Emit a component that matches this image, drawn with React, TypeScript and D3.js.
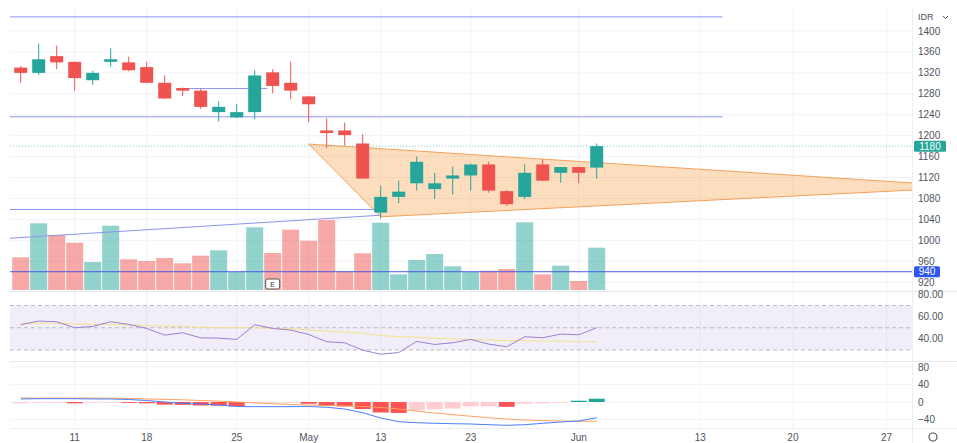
import React from "react";
import * as d3 from "d3";

// ---- data ----
const opens = [1330,1320,1352,1341,1306,1341,1340,1331,1301,1291,1286,1245,1235,1245,1321,1301,1275,1210,1210,1185,1053,1083,1109,1098,1118,1124,1145,1094,1083,1145,1129,1140,1139];
const highs = [1333,1376,1372,1342,1324,1367,1351,1341,1315,1292,1290,1266,1260,1325,1327,1341,1276,1233,1225,1203,1104,1114,1160,1129,1141,1146,1150,1096,1145,1155,1140,1141,1185];
const lows = [1301,1316,1327,1286,1297,1332,1323,1300,1270,1276,1251,1227,1233,1232,1281,1270,1226,1176,1181,1118,1042,1071,1095,1079,1088,1095,1091,1066,1079,1114,1110,1109,1118];
const closes = [1320,1346,1340,1310,1320,1346,1325,1301,1271,1286,1255,1255,1245,1315,1295,1286,1260,1205,1201,1118,1083,1093,1150,1109,1124,1145,1095,1069,1129,1114,1140,1129,1180];
const volumes = [32.7,66.7,55,47.3,28,64.3,30.7,29,32,26.7,34.3,39.7,18,62.7,37,60.3,49.3,70,18.7,36.7,67.3,15.7,30,36,23.7,18,19.3,21,67.7,15.7,24.3,9,42.3];
const rsi = [52.7,56,55.4,50,51.2,55.4,53,49.4,43.4,45.5,40.9,40.7,39.5,52.7,49.4,47.9,44,37.4,36.5,29.9,26.2,27.7,37.7,35,36.5,39.5,35.3,32.9,41.9,41,44.3,43.7,50];
const rsiMa = [54,54,54,53.5,53,53,52.5,52,51.5,51,50.5,50,50,50,49.5,49,48,47,46,45,43,42,41.5,40.5,40,39.5,39,38.5,38.5,38,38,37.5,37.5];
const macd = [7,7.5,7.5,7.5,7,7,5.7,3.4,0,-3,-4.6,-6.9,-10.3,-10.7,-10.7,-10.7,-10.3,-12,-16,-24.5,-36.6,-45,-47.3,-48.7,-49.6,-50.3,-51.9,-53.3,-51.9,-48.7,-45.7,-43.4,-35.9];
const signal = [9,9,9,9,8.8,8.6,8,7,6,5,3.5,2,0,-2,-4,-5.5,-7,-8,-9,-10,-12.5,-16,-21,-25,-29,-32.5,-36,-39,-41,-42.5,-43.5,-44,-44];
const hist = [-3,-1,-1,-3,-2,-1,-2,-3,-6,-6.5,-8,-8.5,-10,-2,-1,-1,-4,-8,-10,-16,-24,-25,-19,-17,-15,-10,-10,-11,-4,-3,-1,3,7.5];

const priceTicks = [1400,1360,1320,1280,1240,1200,1160,1120,1080,1040,1000,960,920];
const rsiTicks = [80,60,40];
const macdTicks = [80,40,0,-40];
const dateLabels = ["11","18","25","May","13","23","Jun","13","20","27"];
const dateIdx = [3,7,12,16,20,25,31,37.75,42.9,48.1];

// user drawings (price levels, index spans)
const hLinePrices = [1427,1236,1290,1059];
const hLineFrom = [-0.6,-0.6,9,-0.6];
const hLineTo = [39,39,13.7,19.7];
const trendIdx = [-0.6,20];
const trendPrice = [1004,1048];
const triIdx = [16,20,53];
const triPrice = [1184,1045,1102];
const supportPrice = 940;
const lastPrice = 1180;

const UP = "#26a69a";
const DOWN = "#ef5350";
const FONT = "'Liberation Sans', Arial, sans-serif";

export default function App() {
  const L = 10, R = 912;
  const x = d3.scaleLinear().domain([0, 49.5]).range([20.7, 911.7]);
  const y = d3.scaleLinear().domain([920, 1400]).range([282.2, 31]);
  const yv = d3.scaleLinear().domain([0, 70]).range([290, 220]);
  const yr = d3.scaleLinear().domain([30, 70]).range([350, 305.5]);
  const ym = d3.scaleLinear().domain([-40, 80]).range([419.5, 367]);
  const idx = d3.range(opens.length);

  const rsiLine = d3.line<number>().x((_, i) => x(i)).y((d) => yr(d));
  const macdLine = d3.line<number>().x((_, i) => x(i)).y((d) => ym(d));

  const histColor = (i: number) => {
    const v = hist[i];
    const p = i > 0 ? hist[i - 1] : v;
    if (v >= 0) return v > p ? "#26a69a" : "#b2dfdb";
    return v < p ? "#ff5252" : "#ffcdd2";
  };

  const triPts = triIdx.map((t, i) => [x(t), y(triPrice[i])].join(",")).join(" ");
  const txt = { fontFamily: FONT, fontSize: 10, fill: "#50535e" } as const;

  return (
    <svg width={957} height={443} style={{ position: "absolute", left: 0, top: 0, background: "#fff" }}>
      <defs>
        <clipPath id="main">
          <rect x={L} y={8} width={R - L} height={283} />
        </clipPath>
      </defs>
      {/* grid */}
      {priceTicks.map((p) => (
        <line key={"g" + p} x1={L} x2={R} y1={y(p)} y2={y(p)} stroke="#f0f3fa" />
      ))}
      {dateIdx.map((d, i) => (
        <line key={"v" + i} x1={x(d)} x2={x(d)} y1={8} y2={428} stroke="#f0f3fa" />
      ))}
      {macdTicks.map((m) => (
        <line key={"mg" + m} x1={L} x2={R} y1={ym(m)} y2={ym(m)} stroke="#f3f4f8" />
      ))}
      {/* separators */}
      <line x1={L} x2={957} y1={291.5} y2={291.5} stroke="#e6e8ee" />
      <line x1={L} x2={957} y1={361.5} y2={361.5} stroke="#e6e8ee" />
      <line x1={L} x2={957} y1={428.5} y2={428.5} stroke="#eceef3" />
      <line x1={R + 0.5} x2={R + 0.5} y1={8} y2={443} stroke="#eceef3" />

      {/* volume */}
      {idx.map((i) => (
        <rect
          key={"vol" + i}
          x={x(i) - 8.5}
          width={17}
          y={yv(volumes[i])}
          height={yv(0) - yv(volumes[i])}
          fill={closes[i] >= opens[i] ? "rgba(38,166,154,0.5)" : "rgba(239,83,80,0.5)"}
        />
      ))}

      {/* drawings */}
      <g clipPath="url(#main)">
        <polygon points={triPts} fill="rgba(245,124,0,0.25)" stroke="#f5a05a" strokeWidth={1} />
        {hLinePrices.map((p, i) => (
          <line key={"hl" + i} x1={x(hLineFrom[i])} x2={x(hLineTo[i])} y1={y(p)} y2={y(p)} stroke="#8f93ef" strokeWidth={1} />
        ))}
        <line x1={x(trendIdx[0])} x2={x(trendIdx[1])} y1={y(trendPrice[0])} y2={y(trendPrice[1])} stroke="#8f93ef" strokeWidth={1} />
        <line x1={L} x2={R} y1={y(lastPrice)} y2={y(lastPrice)} stroke={UP} strokeDasharray="1,2" opacity={0.6} />
      </g>
      <line x1={L} x2={R} y1={y(supportPrice)} y2={y(supportPrice)} stroke="#4a5ae0" strokeWidth={1} />

      {/* candles */}
      {idx.map((i) => {
        const up = closes[i] >= opens[i];
        const c = up ? UP : DOWN;
        const top = y(Math.max(opens[i], closes[i]));
        const bot = y(Math.min(opens[i], closes[i]));
        return (
          <g key={"c" + i}>
            <line x1={x(i)} x2={x(i)} y1={y(highs[i])} y2={y(lows[i])} stroke={c} strokeWidth={1} />
            <rect x={x(i) - 6.5} width={13} y={top} height={Math.max(1, bot - top)} fill={c} />
          </g>
        );
      })}

      {/* earnings marker */}
      <rect x={x(14) - 7} y={279} width={14} height={10} rx={2} fill="#fff" stroke="#555" strokeWidth={1} />
      <text x={x(14)} y={284} textAnchor="middle" dominantBaseline="central" style={{ ...txt, fontSize: 7, fill: "#333" }}>E</text>

      {/* RSI */}
      <rect x={L} y={yr(70)} width={R - L} height={yr(30) - yr(70)} fill="rgba(126,87,194,0.1)" />
      {[70, 50, 30].map((v) => (
        <line key={"rl" + v} x1={L} x2={R} y1={yr(v)} y2={yr(v)} stroke="#9598a1" strokeDasharray="4,3" opacity={0.6} />
      ))}
      <path d={rsiLine(rsiMa) || ""} fill="none" stroke="#f2e28c" strokeWidth={1} />
      <path d={rsiLine(rsi) || ""} fill="none" stroke="#9b7fd4" strokeWidth={1} />

      {/* MACD */}
      {idx.map((i) => (
        <rect
          key={"h" + i}
          x={x(i) - 8}
          width={16}
          y={Math.min(ym(0), ym(hist[i]))}
          height={Math.max(0.8, Math.abs(ym(hist[i]) - ym(0)))}
          fill={histColor(i)}
        />
      ))}
      <path d={macdLine(signal) || ""} fill="none" stroke="#ffa060" strokeWidth={1} />
      <path d={macdLine(macd) || ""} fill="none" stroke="#4a7dff" strokeWidth={1} />

      {/* price axis */}
      <text x={918} y={17} dominantBaseline="central" style={{ ...txt, fontSize: 9 }}>IDR</text>
      <polyline points="943,16 945.5,18.5 948,16" fill="none" stroke="#50535e" strokeWidth={1} />
      {priceTicks.map((p) => (
        <text key={"pt" + p} x={918} y={y(p)} dominantBaseline="central" style={txt}>{p}</text>
      ))}
      <rect x={914} y={y(lastPrice) - 5.5} width={32} height={11} rx={1.5} fill={UP} />
      <text x={930} y={y(lastPrice)} textAnchor="middle" dominantBaseline="central" style={{ ...txt, fill: "#fff" }}>{lastPrice}</text>
      <rect x={914} y={y(supportPrice) - 5.5} width={26} height={11} rx={1.5} fill="#2f55f0" />
      <text x={927} y={y(supportPrice)} textAnchor="middle" dominantBaseline="central" style={{ ...txt, fill: "#fff" }}>{supportPrice}</text>
      {rsiTicks.map((v) => (
        <text key={"rt" + v} x={918} y={yr(v)} dominantBaseline="central" style={txt}>{v.toFixed(2)}</text>
      ))}
      {macdTicks.map((v) => (
        <text key={"mt" + v} x={918} y={ym(v)} dominantBaseline="central" style={txt}>{v < 0 ? "\u2212" + Math.abs(v) : String(v)}</text>
      ))}

      {/* date axis */}
      {dateLabels.map((d, i) => (
        <text key={"d" + i} x={x(dateIdx[i])} y={437} textAnchor="middle" dominantBaseline="central" style={txt}>{d}</text>
      ))}
      <circle cx={933} cy={437} r={4} fill="none" stroke="#50535e" strokeWidth={1.2} />
    </svg>
  );
}
